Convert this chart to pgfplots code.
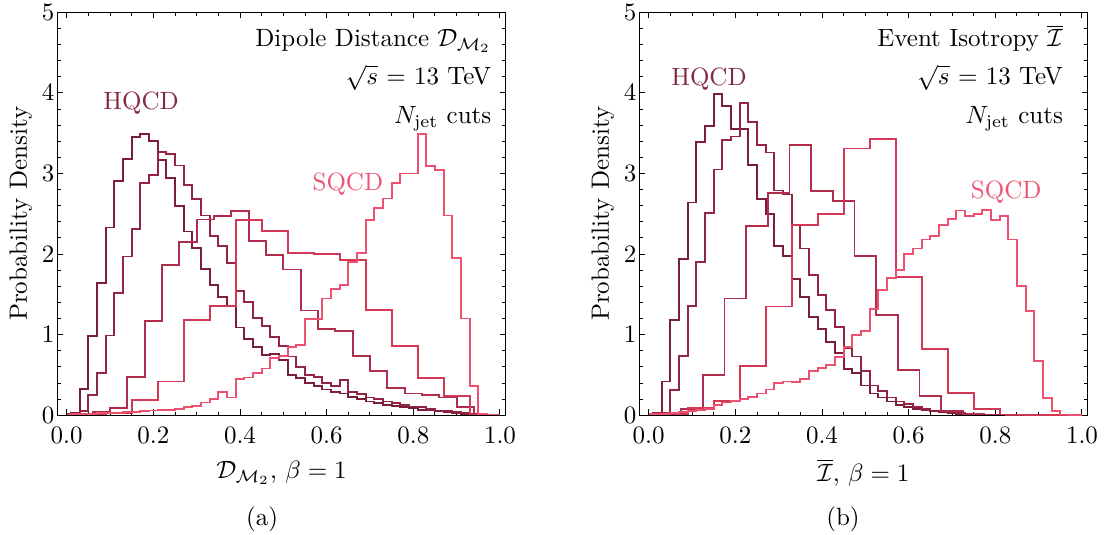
\documentclass[border=0pt]{standalone}
\usepackage{pgfplots}
\pgfplotsset{compat=1.18}
\definecolor{c1}{RGB}{122,30,58}
\definecolor{c2}{RGB}{146,38,66}
\definecolor{c3}{RGB}{176,46,76}
\definecolor{c4}{RGB}{210,56,86}
\definecolor{c5}{RGB}{236,82,112}
\definecolor{hq}{RGB}{130,42,64}
\definecolor{sq}{RGB}{236,86,116}
\pgfplotsset{
  hist/.style={const plot, mark=none, line width=0.72pt},
  panel/.style={
    anchor=south west, scale only axis,
    width=179.36pt, height=161.2pt,
    xmin=-0.0217, xmax=1.0132, ymin=0, ymax=5,
    xtick={0,0.2,0.4,0.6,0.8,1.0}, minor x tick num=3,
    ytick={0,1,2,3,4,5}, minor y tick num=4,
    x tick label style={yshift=-1.2pt},
    xticklabel style={/pgf/number format/.cd, fixed, fixed zerofill, precision=1},
    yticklabel style={inner xsep=1pt},
    major tick length=2.4pt, minor tick length=1.3pt,
    tick style={black, line width=0.4pt},
    axis line style={line width=0.45pt},
    ylabel={Probability Density},
    ylabel style={at={(axis description cs:-0.0814,0.5)}, anchor=center},
    xlabel style={at={(axis description cs:0.5,-0.143)}, anchor=center},
  }
}
\begin{document}
\begin{tikzpicture}
\useasboundingbox (0pt,0pt) rectangle (442.4pt,214pt);
% ---------------- left panel ----------------
\begin{axis}[panel, at={(22.92pt,47.88pt)},
  xlabel={$\mathcal{D}_{\mathcal{M}_2}$, $\beta = 1$}]
\addplot[hist, c1] coordinates {
(0.00,0.02)(0.01,0.03)(0.03,0.33)(0.05,0.98)(0.07,1.64)(0.09,2.33)(0.11,2.91)(0.13,3.18)
(0.15,3.45)(0.17,3.49)(0.19,3.40)(0.21,3.17)(0.23,2.94)(0.25,2.60)(0.27,2.28)(0.29,2.08)
(0.31,1.82)(0.33,1.62)(0.35,1.47)(0.37,1.35)(0.39,1.09)(0.41,0.95)(0.43,0.85)(0.45,0.75)
(0.47,0.76)(0.49,0.69)(0.51,0.50)(0.53,0.46)(0.55,0.40)(0.57,0.36)(0.59,0.32)(0.61,0.29)
(0.63,0.27)(0.65,0.23)(0.67,0.20)(0.69,0.17)(0.71,0.15)(0.73,0.13)(0.75,0.12)(0.77,0.10)
(0.79,0.09)(0.81,0.07)(0.83,0.06)(0.85,0.05)(0.87,0.04)(0.89,0.03)(0.91,0.02)(0.93,0.02)
(0.95,0.01)(0.97,0.01)(0.99,0.01)(1.00,0.01)};
\addplot[hist, c2] coordinates {
(0.00,0.01)(0.01,0.02)(0.03,0.05)(0.05,0.25)(0.07,0.52)(0.09,0.99)(0.11,1.52)(0.13,1.97)
(0.15,2.31)(0.17,2.88)(0.19,2.98)(0.21,3.27)(0.23,3.24)(0.25,3.10)(0.27,2.86)(0.29,2.68)
(0.31,2.48)(0.33,2.22)(0.35,2.10)(0.37,1.89)(0.39,1.54)(0.41,1.41)(0.43,1.21)(0.45,1.11)
(0.47,0.97)(0.49,0.86)(0.51,0.73)(0.53,0.60)(0.55,0.50)(0.57,0.48)(0.59,0.40)(0.61,0.36)
(0.63,0.44)(0.65,0.29)(0.67,0.26)(0.69,0.22)(0.71,0.20)(0.73,0.17)(0.75,0.15)(0.77,0.13)
(0.79,0.11)(0.81,0.10)(0.83,0.08)(0.85,0.06)(0.87,0.05)(0.89,0.04)(0.91,0.03)(0.93,0.02)
(0.95,0.01)(0.97,0.01)(0.99,0.01)(1.00,0.01)};
\addplot[hist, c3] coordinates {
(0.00,0.01)(0.02,0.02)(0.06,0.04)(0.10,0.09)(0.14,0.48)(0.18,1.17)(0.22,1.86)(0.26,2.15)
(0.30,2.43)(0.34,2.47)(0.38,2.53)(0.42,2.16)(0.46,1.99)(0.50,1.81)(0.54,1.30)(0.58,1.07)
(0.62,1.05)(0.66,0.74)(0.70,0.55)(0.74,0.34)(0.78,0.27)(0.82,0.25)(0.86,0.22)(0.90,0.10)
(0.94,0.01)(0.98,0.01)(1.00,0.01)};
\addplot[hist, c4] coordinates {
(0.00,0.01)(0.03,0.01)(0.09,0.03)(0.15,0.19)(0.21,0.42)(0.27,1.18)(0.33,1.36)(0.39,2.42)
(0.45,2.29)(0.51,2.01)(0.57,2.00)(0.63,1.93)(0.69,1.31)(0.75,0.86)(0.81,0.46)(0.87,0.24)
(0.93,0.01)(0.99,0.01)(1.00,0.01)};
\addplot[hist, c5] coordinates {
(0.00,0.01)(0.01,0.02)(0.03,0.02)(0.05,0.02)(0.07,0.03)(0.09,0.03)(0.11,0.03)(0.13,0.04)
(0.15,0.04)(0.17,0.05)(0.19,0.06)(0.21,0.07)(0.23,0.07)(0.25,0.08)(0.27,0.10)(0.29,0.12)
(0.31,0.16)(0.33,0.20)(0.35,0.29)(0.37,0.22)(0.39,0.45)(0.41,0.47)(0.43,0.52)(0.45,0.58)
(0.47,0.71)(0.49,0.74)(0.51,0.85)(0.53,0.87)(0.55,1.19)(0.57,1.19)(0.59,1.45)(0.61,1.57)
(0.63,1.62)(0.65,1.90)(0.67,2.01)(0.69,2.42)(0.71,2.57)(0.73,2.69)(0.75,2.88)(0.77,3.00)
(0.79,3.00)(0.81,3.49)(0.83,3.09)(0.85,3.04)(0.87,2.48)(0.89,1.95)(0.91,1.20)(0.93,0.36)
(0.95,0.02)(0.97,0.01)(0.99,0.01)(1.00,0.01)};
\node[anchor=base east, inner sep=0pt] at (axis cs:0.981,4.573) {Dipole Distance $\mathcal{D}_{\mathcal{M}_2}$};
\node[anchor=base east, inner sep=0pt] at (axis cs:0.981,4.10) {$\sqrt{s}$ = 13 TeV};
\node[anchor=base east, inner sep=0pt] at (axis cs:0.981,3.62) {$N_{\mathrm{jet}}$ cuts};
\node[anchor=base, inner sep=0pt, text=hq] at (axis cs:0.1715,3.788) {HQCD};
\node[anchor=base, inner sep=0pt, text=sq] at (axis cs:0.649,2.795) {SQCD};
\end{axis}
% ---------------- right panel ----------------
\begin{axis}[panel, at={(255.72pt,47.88pt)},
  xlabel={$\overline{\mathcal{I}}$, $\beta = 1$}]
\addplot[hist, c1] coordinates {
(0.00,0.02)(0.01,0.03)(0.03,0.42)(0.05,1.18)(0.07,1.94)(0.09,2.64)(0.11,3.39)(0.13,3.59)
(0.15,3.99)(0.17,3.84)(0.19,3.55)(0.21,3.55)(0.23,3.11)(0.25,2.68)(0.27,2.50)(0.29,2.10)
(0.31,1.98)(0.33,1.69)(0.35,1.47)(0.37,1.22)(0.39,1.07)(0.41,0.91)(0.43,0.77)(0.45,0.57)
(0.47,0.52)(0.49,0.37)(0.51,0.27)(0.53,0.22)(0.55,0.17)(0.57,0.13)(0.59,0.10)(0.61,0.08)
(0.63,0.06)(0.65,0.05)(0.67,0.04)(0.69,0.03)(0.71,0.02)(0.73,0.02)(0.75,0.01)(0.77,0.01)
(0.79,0.01)(0.81,0.01)(0.83,0.005)(0.85,0.005)(0.87,0.005)(0.89,0.005)(0.91,0.005)
(0.93,0.005)(0.95,0.005)(0.97,0.005)(0.99,0.005)(1.00,0.005)};
\addplot[hist, c2] coordinates {
(0.00,0.01)(0.01,0.02)(0.03,0.03)(0.05,0.31)(0.07,0.74)(0.09,1.36)(0.11,1.90)(0.13,2.51)
(0.15,3.05)(0.17,3.42)(0.19,3.46)(0.21,3.87)(0.23,3.64)(0.25,3.35)(0.27,3.26)(0.29,2.79)
(0.31,2.74)(0.33,2.36)(0.35,2.07)(0.37,1.74)(0.39,1.49)(0.41,1.31)(0.43,1.10)(0.45,0.83)
(0.47,0.73)(0.49,0.55)(0.51,0.37)(0.53,0.30)(0.55,0.22)(0.57,0.17)(0.59,0.14)(0.61,0.10)
(0.63,0.08)(0.65,0.06)(0.67,0.05)(0.69,0.04)(0.71,0.03)(0.73,0.02)(0.75,0.02)(0.77,0.01)
(0.79,0.01)(0.81,0.01)(0.83,0.005)(0.85,0.005)(0.87,0.005)(0.89,0.005)(0.91,0.005)
(0.93,0.005)(0.95,0.005)(0.97,0.005)(0.99,0.005)(1.00,0.005)};
\addplot[hist, c3] coordinates {
(0.00,0.01)(0.025,0.03)(0.075,0.08)(0.125,0.50)(0.175,1.45)(0.225,2.35)(0.275,2.76)
(0.325,3.35)(0.375,2.78)(0.425,2.66)(0.475,1.98)(0.525,1.24)(0.575,0.56)(0.625,0.24)
(0.675,0.05)(0.725,0.02)(0.775,0.01)(0.825,0.005)(0.875,0.005)(0.925,0.005)(0.975,0.005)(1.00,0.005)};
\addplot[hist, c4] coordinates {
(0.00,0.01)(0.03,0.02)(0.09,0.09)(0.15,0.18)(0.21,0.61)(0.27,1.35)(0.33,2.36)(0.39,2.50)
(0.45,3.31)(0.51,3.43)(0.57,1.72)(0.63,0.82)(0.69,0.28)(0.75,0.08)(0.81,0.01)(0.87,0.005)
(0.93,0.005)(0.99,0.005)(1.00,0.005)};
\addplot[hist, c5] coordinates {
(0.00,0.02)(0.01,0.02)(0.03,0.02)(0.05,0.03)(0.07,0.04)(0.09,0.05)(0.11,0.07)(0.13,0.08)
(0.15,0.13)(0.17,0.16)(0.19,0.18)(0.21,0.20)(0.23,0.23)(0.25,0.27)(0.27,0.32)(0.29,0.40)
(0.31,0.42)(0.33,0.41)(0.35,0.45)(0.37,0.55)(0.39,0.59)(0.41,0.62)(0.43,0.72)(0.45,0.85)
(0.47,1.00)(0.49,1.05)(0.51,1.32)(0.53,1.55)(0.55,1.70)(0.57,1.80)(0.59,2.00)(0.61,2.07)
(0.63,2.18)(0.65,2.22)(0.67,2.36)(0.69,2.44)(0.71,2.54)(0.73,2.47)(0.75,2.50)(0.77,2.55)
(0.79,2.42)(0.81,2.47)(0.83,2.18)(0.85,1.60)(0.87,1.29)(0.89,0.67)(0.91,0.21)(0.93,0.05)
(0.95,0.01)(0.97,0.005)(0.99,0.005)(1.00,0.005)};
\node[anchor=base east, inner sep=0pt] at (axis cs:0.957,4.573) {Event Isotropy $\overline{\mathcal{I}}$};
\node[anchor=base east, inner sep=0pt] at (axis cs:0.957,4.10) {$\sqrt{s}$ = 13 TeV};
\node[anchor=base east, inner sep=0pt] at (axis cs:0.957,3.62) {$N_{\mathrm{jet}}$ cuts};
\node[anchor=base, inner sep=0pt, text=hq] at (axis cs:0.139,4.09) {HQCD};
\node[anchor=base, inner sep=0pt, text=sq] at (axis cs:0.825,2.684) {SQCD};
\end{axis}
\node at (104.8pt,6.4pt) {(a)};
\node at (337.2pt,6.4pt) {(b)};
\end{tikzpicture}
\end{document}
